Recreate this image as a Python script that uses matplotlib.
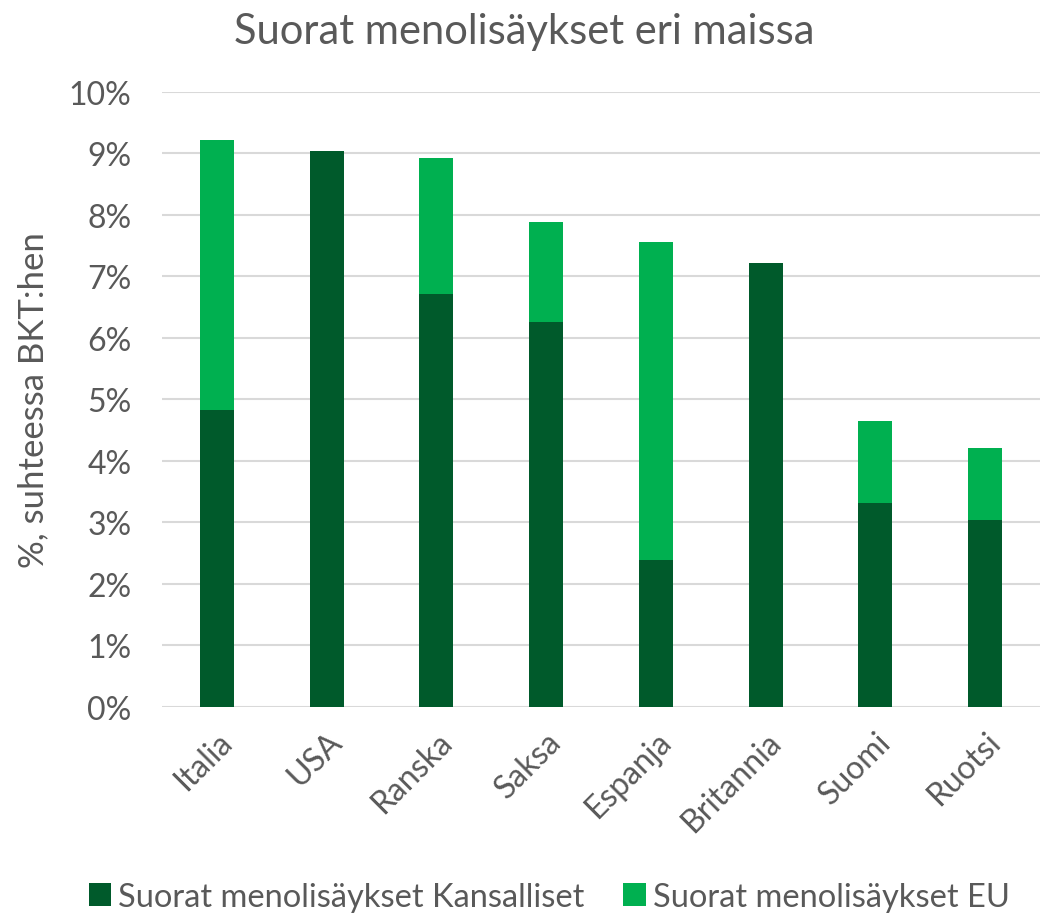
import matplotlib
matplotlib.use("Agg")
import matplotlib.pyplot as plt
from matplotlib.ticker import FuncFormatter, MultipleLocator

categories = ["Italia", "USA", "Ranska", "Saksa", "Espanja", "Britannia", "Suomi", "Ruotsi"]
kansalliset = [4.82, 9.04, 6.71, 6.25, 2.38, 7.21, 3.31, 3.04]
totals = [9.21, 9.04, 8.93, 7.88, 7.56, 7.21, 4.64, 4.21]
eu = [t - k for t, k in zip(totals, kansalliset)]

series_names = ["Suorat menolisäykset Kansalliset", "Suorat menolisäykset EU"]
title = "Suorat menolisäykset eri maissa"
ylabel = "%, suhteessa BKT:hen"

dark = "#005a2b"
light = "#00b050"
txt = "#595959"

plt.rcParams['font.family'] = ['Lato', 'DejaVu Sans']

fig = plt.figure(figsize=(10.48, 9.2), dpi=100)
ax = fig.add_axes([0.1546, 0.2308, 0.8378, 0.6684])

x = range(len(categories))
w = 0.31
ax.bar(x, kansalliset, width=w, color=dark, label=series_names[0], zorder=3)
ax.bar(x, eu, width=w, bottom=kansalliset, color=light, label=series_names[1], zorder=3)

ax.set_ylim(0, 10)
ax.set_xlim(-0.5, len(categories) - 0.5)
ax.yaxis.set_major_locator(MultipleLocator(1))
ax.yaxis.set_major_formatter(FuncFormatter(lambda v, p: f"{int(round(v))}%"))
ax.grid(axis='y', color='#d9d9d9', linewidth=1.5, zorder=0)
for s in ax.spines.values():
    s.set_visible(False)
ax.tick_params(axis='both', length=0, labelsize=23, colors=txt)
ax.tick_params(axis='y', pad=22)
ax.set_xticks(list(x))
ax.set_xticklabels(categories, rotation=45, ha='right', rotation_mode='anchor')
ax.tick_params(axis='x', pad=14)

ax.set_ylabel(ylabel, fontsize=25, color=txt, labelpad=14)
fig.text(0.5, 0.965, title, ha='center', va='center', fontsize=30, color=txt)

fig.legend(loc='center', bbox_to_anchor=(0.524, 0.024), ncol=2, frameon=False,
           fontsize=23.5, labelcolor=txt, handlelength=0.7, handleheight=0.7,
           handletextpad=0.2, columnspacing=1.2)

fig.savefig("out.png", dpi=100, facecolor='white')
